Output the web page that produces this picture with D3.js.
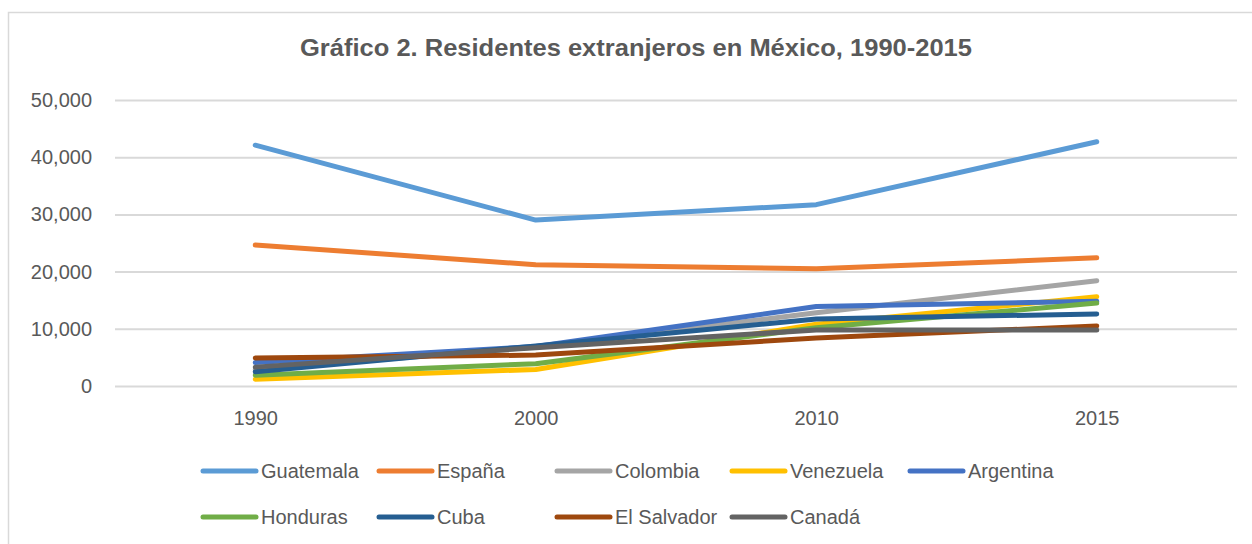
<!DOCTYPE html>
<html>
<head>
<meta charset="utf-8">
<script src="https://cdn.jsdelivr.net/npm/d3@7"></script>
<style>
  body { margin: 0; background: #fff; }
  svg { display: block; font-family: "Liberation Sans", Arial, sans-serif; }
</style>
</head>
<body>
<svg width="1252" height="544"></svg>
<script>
// data
var years = ["1990", "2000", "2010", "2015"];
var countries = ["Guatemala", "España", "Colombia", "Venezuela", "Argentina",
                 "Honduras", "Cuba", "El Salvador", "Canadá"];
var colors = ["#5B9BD5", "#ED7D31", "#A5A5A5", "#FFC000", "#4472C4",
              "#70AD47", "#255E91", "#9E480E", "#636363"];

var guatemala  = [42100, 29000, 31700, 42700];
var espana     = [24650, 21200, 20500, 22400];
var colombia   = [2900, 6800, 12800, 18400];
var venezuela  = [1200, 2900, 10800, 15600];
var argentina  = [4100, 6900, 13900, 14800];
var honduras   = [1900, 3900, 10200, 14500];
var cuba       = [2500, 7000, 11700, 12600];
var elSalvador = [4900, 5400, 8400, 10500];
var canada     = [3300, 6700, 9800, 9800];

var series = [guatemala, espana, colombia, venezuela, argentina,
              honduras, cuba, elSalvador, canada];
var yTicks = [0, 10000, 20000, 30000, 40000, 50000];

// SVG setup
var svg = d3.select("svg");
var plot = {left: 115, right: 1237, top: 100, bottom: 386};

svg.append("rect")
  .attr("x", 8.5).attr("y", 12.5)
  .attr("width", 1260).attr("height", 560)
  .attr("fill", "#fff")
  .attr("stroke", "#d9d9d9")
  .attr("stroke-width", 1.5);

svg.append("text")
  .attr("x", 636).attr("y", 56)
  .attr("text-anchor", "middle")
  .attr("font-size", 24)
  .attr("font-weight", "bold")
  .attr("fill", "#595959")
  .attr("textLength", 672)
  .attr("lengthAdjust", "spacingAndGlyphs")
  .text("Gráfico 2. Residentes extranjeros en México, 1990-2015");

// scales
var x = d3.scalePoint()
  .domain(years)
  .range([plot.left, plot.right])
  .padding(0.5);

var y = d3.scaleLinear()
  .domain([0, 50000])
  .range([plot.bottom, plot.top]);

// y axis with gridlines
var yAxis = svg.append("g")
  .attr("transform", "translate(" + plot.left + ",0)")
  .call(d3.axisLeft(y).tickValues(yTicks)
    .tickSize(-(plot.right - plot.left))
    .tickPadding(23)
    .tickFormat(d3.format(",")));
yAxis.select(".domain").remove();
yAxis.selectAll("line").attr("stroke", "#d9d9d9").attr("stroke-width", 2);
yAxis.selectAll("text")
  .attr("fill", "#595959")
  .attr("font-size", 20)
  .attr("font-family", "Liberation Sans, Arial, sans-serif");

// x axis
var xAxis = svg.append("g")
  .attr("transform", "translate(0," + plot.bottom + ")")
  .call(d3.axisBottom(x).tickSize(0).tickPadding(25));
xAxis.select(".domain").remove();
xAxis.selectAll("text")
  .attr("fill", "#595959")
  .attr("font-size", 20)
  .attr("font-family", "Liberation Sans, Arial, sans-serif");

// lines
var line = d3.line()
  .x(function(d, i) { return x(years[i]); })
  .y(function(d) { return y(d); });

svg.selectAll(".series")
  .data(series)
  .enter()
  .append("path")
    .attr("class", "series")
    .attr("d", line)
    .attr("fill", "none")
    .attr("stroke", function(d, i) { return colors[i]; })
    .attr("stroke-width", 5)
    .attr("stroke-linecap", "round")
    .attr("stroke-linejoin", "round");

// legend
var legendX = [201, 377, 555, 730, 908];
var legendY = [471, 517];

var item = svg.selectAll(".legend")
  .data(countries)
  .enter()
  .append("g")
    .attr("class", "legend")
    .attr("transform", function(d, i) {
      return "translate(" + legendX[i % 5] + "," + legendY[Math.floor(i / 5)] + ")";
    });

item.append("line")
  .attr("x1", 2).attr("x2", 55)
  .attr("stroke", function(d, i) { return colors[i]; })
  .attr("stroke-width", 5)
  .attr("stroke-linecap", "round");

item.append("text")
  .attr("x", 60).attr("y", 7)
  .attr("font-size", 20)
  .attr("fill", "#595959")
  .text(function(d) { return d; });
</script>
</body>
</html>
